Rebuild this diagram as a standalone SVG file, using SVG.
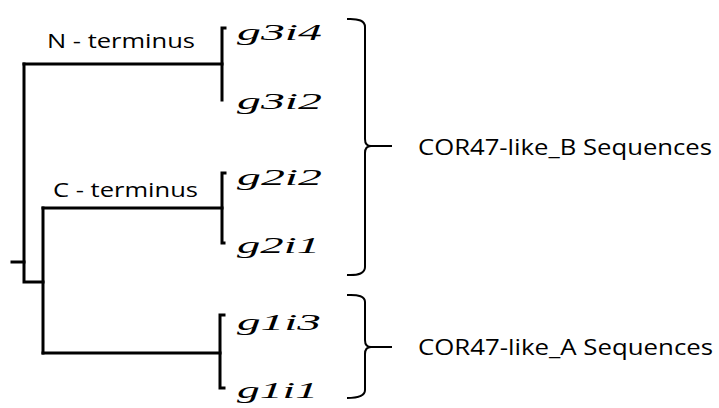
<svg xmlns="http://www.w3.org/2000/svg" width="719" height="408" viewBox="0 0 719 408">
  <style>
    .branch { fill: none; stroke: #000; stroke-width: 3; stroke-linecap: square; }
    .brace { fill: none; stroke: #000; stroke-width: 2; }
    .leaf { font-family: "Liberation Serif", "DejaVu Serif", serif; font-style: italic; font-size: 24px; fill: #000; }
    .note { font-family: "Open Sans", "Liberation Sans", sans-serif; font-size: 20px; fill: #000; }
    .group { font-family: "Open Sans", "Liberation Sans", sans-serif; font-size: 21px; fill: #000; }
  </style>
  <rect width="719" height="408" fill="#fff"/>

  <!-- tree branches -->
  <g id="connectors">
    <path class="branch" d="M12,262 H24"/>
    <path class="branch" d="M24,64 V282 H43"/>
    <path class="branch" d="M24,64 H222"/>
    <path class="branch" d="M43,208 V353"/>
    <path class="branch" d="M43,208 H222"/>
    <path class="branch" d="M43,353 H220"/>
  </g>

  <!-- g3 clade -->
  <g id="clade-g3">
    <path class="branch" d="M225,28 H222 V100"/>
    <text class="leaf" x="237" y="40" textLength="85" lengthAdjust="spacingAndGlyphs">g3i4</text>
    <text class="leaf" x="237" y="109" textLength="85" lengthAdjust="spacingAndGlyphs">g3i2</text>
  </g>

  <!-- g2 clade -->
  <g id="clade-g2">
    <path class="branch" d="M225,173 H222 V243 H224"/>
    <text class="leaf" x="237" y="185" textLength="85" lengthAdjust="spacingAndGlyphs">g2i2</text>
    <text class="leaf" x="237" y="253" textLength="83" lengthAdjust="spacingAndGlyphs">g2i1</text>
  </g>

  <!-- g1 clade -->
  <g id="clade-g1">
    <path class="branch" d="M224,315 H220 V388 H224"/>
    <text class="leaf" x="237" y="330" textLength="84" lengthAdjust="spacingAndGlyphs">g1i3</text>
    <text class="leaf" x="237" y="398" textLength="81" lengthAdjust="spacingAndGlyphs">g1i1</text>
  </g>

  <!-- branch notes -->
  <g id="note-n">
    <text class="note" x="47" y="48" textLength="148" lengthAdjust="spacingAndGlyphs">N - terminus</text>
  </g>
  <g id="note-c">
    <text class="note" x="53" y="197" textLength="145" lengthAdjust="spacingAndGlyphs">C - terminus</text>
  </g>

  <!-- group braces -->
  <g id="group-b">
    <path class="brace" d="M347,19 Q365,18 365,27 V139 Q365,146 371,146 Q365,146 365,153 V267 Q365,276 347,275"/>
    <path class="brace" d="M370,146 H392"/>
    <text class="group" x="418" y="155" textLength="294" lengthAdjust="spacingAndGlyphs">COR47-like_B Sequences</text>
  </g>
  <g id="group-a">
    <path class="brace" d="M347,295 Q365,294 365,302 V340 Q365,347 371,347 Q365,347 365,354 V390 Q365,398 347,398"/>
    <path class="brace" d="M370,347 H392"/>
    <text class="group" x="418" y="355" textLength="295" lengthAdjust="spacingAndGlyphs">COR47-like_A Sequences</text>
  </g>
</svg>
